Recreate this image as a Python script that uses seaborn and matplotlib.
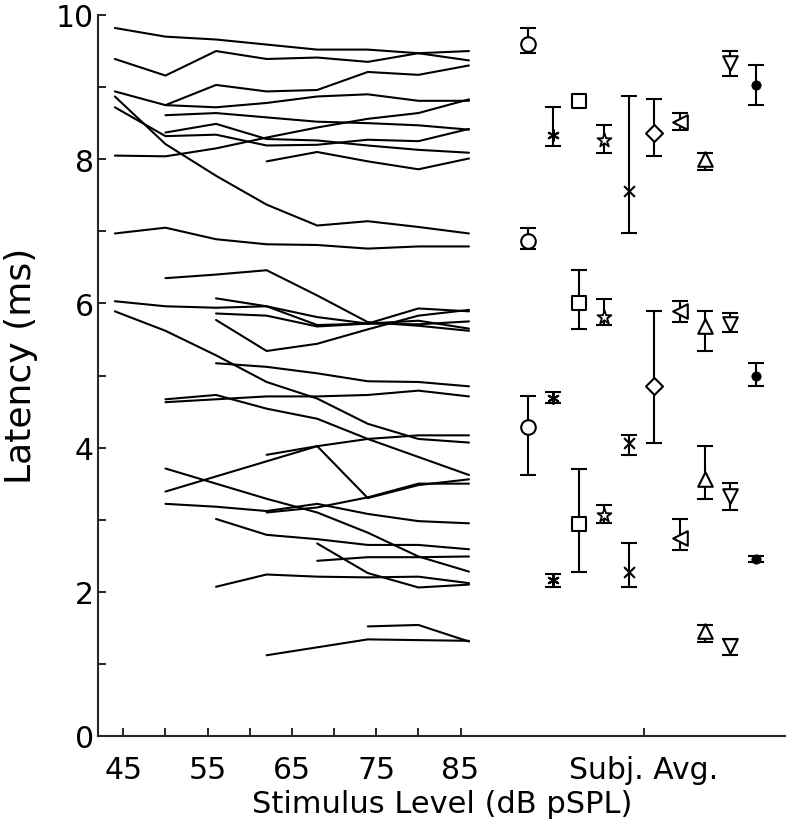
import numpy as np
import pandas as pd
import seaborn as sns
from matplotlib import pyplot as plt

nan = np.nan

# stimulus levels (dB pSPL)
levels = [44, 50, 56, 62, 68, 74, 80, 86]

# latency vs level, one row per subject/wave
lat_rows = [
    [9.82, 9.70, 9.66, 9.59, 9.52, 9.52, 9.47, 9.37],
    [9.39, 9.16, 9.50, 9.39, 9.41, 9.35, 9.47, 9.50],
    [8.94, 8.75, 9.03, 8.94, 8.96, 9.21, 9.17, 9.30],
    [nan, 8.75, 8.72, 8.78, 8.87, 8.90, 8.81, 8.81],
    [8.87, 8.21, 7.77, 7.37, 7.08, 7.14, 7.06, 6.97],
    [8.72, 8.32, 8.34, 8.19, 8.20, 8.27, 8.25, 8.42],
    [nan, 8.37, 8.49, 8.28, 8.26, 8.19, 8.13, 8.09],
    [nan, 8.61, 8.64, 8.58, 8.52, 8.50, 8.47, 8.41],
    [8.05, 8.04, 8.15, 8.30, 8.44, 8.56, 8.64, 8.83],
    [nan, nan, nan, 7.97, 8.10, 7.97, 7.86, 8.01],
    [6.97, 7.05, 6.89, 6.82, 6.81, 6.76, 6.79, 6.79],
    [nan, 6.35, 6.40, 6.46, 6.11, 5.74, 5.69, 5.62],
    [6.03, 5.96, 5.94, 5.96, 5.81, 5.72, 5.93, 5.89],
    [nan, nan, 6.07, 5.96, 5.70, 5.72, 5.76, 5.65],
    [nan, nan, 5.86, 5.83, 5.68, 5.72, 5.71, 5.75],
    [nan, nan, 5.77, 5.34, 5.44, 5.64, 5.83, 5.91],
    [5.89, 5.62, 5.28, 4.91, 4.68, 4.33, 4.12, 4.07],
    [nan, nan, 5.17, 5.12, 5.03, 4.92, 4.91, 4.85],
    [nan, 4.67, 4.73, 4.54, 4.40, 4.12, 3.87, 3.62],
    [nan, 4.63, 4.67, 4.71, 4.71, 4.73, 4.79, 4.71],
    [nan, 3.39, 3.60, 3.81, 4.02, 4.12, 4.17, 4.17],
    [nan, nan, nan, 3.90, 4.02, 3.30, 3.48, 3.56],
    [nan, 3.71, 3.50, 3.29, 3.10, 2.82, 2.49, 2.28],
    [nan, 3.22, 3.18, 3.12, 3.22, 3.08, 2.98, 2.95],
    [nan, nan, nan, 3.10, 3.17, 3.31, 3.50, 3.50],
    [nan, nan, 3.01, 2.79, 2.73, 2.65, 2.65, 2.59],
    [nan, nan, nan, nan, 2.67, 2.26, 2.06, 2.10],
    [nan, nan, nan, nan, 2.43, 2.48, 2.48, 2.49],
    [nan, nan, 2.07, 2.24, 2.21, 2.20, 2.21, 2.12],
    [nan, nan, nan, nan, nan, 1.52, 1.54, 1.31],
    [nan, nan, nan, 1.12, 1.23, 1.34, 1.33, 1.32],
]

# subject averages: x slot, mean, range top, range bottom
subj_x = [93, 96, 99, 102, 105, 108, 111, 114, 117, 120]
subj_mean = [
    [9.60, 6.87, 4.28],
    [8.34, 4.69, 2.16],
    [8.81, 6.00, 2.94],
    [8.26, 5.81, 3.06],
    [7.56, 4.07, 2.28],
    [8.37, 4.86],
    [8.52, 5.90, 2.74],
    [8.00, 5.69, 3.56, 1.46],
    [9.34, 5.71, 3.33, 1.25],
    [9.03, 5.00, 2.46],
]
subj_top = [
    [9.82, 7.05, 4.72],
    [8.72, 4.77, 2.25],
    [8.86, 6.46, 3.71],
    [8.48, 6.06, 3.21],
    [8.87, 4.18, 2.67],
    [8.83, 5.89],
    [8.64, 6.03, 3.01],
    [8.09, 5.90, 4.02, 1.54],
    [9.50, 5.86, 3.51, 1.34],
    [9.30, 5.17, 2.50],
]
subj_bot = [
    [9.47, 6.75, 3.62],
    [8.19, 4.62, 2.07],
    [8.76, 5.64, 2.28],
    [8.09, 5.70, 2.95],
    [6.97, 3.90, 2.06],
    [8.04, 4.06],
    [8.40, 5.74, 2.58],
    [7.85, 5.34, 3.29, 1.30],
    [9.16, 5.61, 3.14, 1.13],
    [8.75, 4.85, 2.42],
]
subj_markers = ['o', (6, 2, 0), 's', '*', 'x', 'D', '<', '^', 'v', 'o']

sns.set_style("ticks")
plt.rcParams['font.family'] = ['DejaVu Sans']
plt.rcParams['text.color'] = 'black'
plt.rcParams['axes.labelcolor'] = 'black'

# long form table for the level lines
recs = []
for i, row in enumerate(lat_rows):
    for lv, v in zip(levels, row):
        if not np.isnan(v):
            recs.append({"line": i, "level": lv, "latency": v})
line_df = pd.DataFrame(recs)

fig = plt.figure(figsize=(7.86, 8.28), dpi=100)
ax = fig.add_axes([98 / 786, 1 - 737 / 828, 688 / 786, 721 / 828])

sns.lineplot(data=line_df, x="level", y="latency", units="line",
             estimator=None, color="black", lw=1.5, ax=ax, legend=False)

#averages with range bars
for k in range(len(subj_x)):
    m = np.array(subj_mean[k])
    t = np.array(subj_top[k])
    b = np.array(subj_bot[k])
    xs = np.full(len(m), subj_x[k])
    ax.errorbar(xs, m, yerr=[m - b, t - m], fmt='none', ecolor='black',
                elinewidth=1.5, capsize=6, capthick=1.5, zorder=2)
    mk = subj_markers[k]
    if k == 9:
        sns.scatterplot(x=xs, y=m, marker='o', s=45, color='black',
                        edgecolor='black', ax=ax, zorder=3)
    elif mk in ['x', (6, 2, 0)]:
        sns.scatterplot(x=xs, y=m, marker=mk, s=60, color='black',
                        linewidth=1.5, ax=ax, zorder=3)
    elif mk == '*':
        sns.scatterplot(x=xs, y=m, marker=mk, s=110, facecolor='white',
                        edgecolor='black', linewidth=1.3, ax=ax, zorder=3)
    elif mk == 'D':
        sns.scatterplot(x=xs, y=m, marker=mk, s=75, facecolor='white',
                        edgecolor='black', linewidth=1.5, ax=ax, zorder=3)
    else:
        sns.scatterplot(x=xs, y=m, marker=mk, s=110, facecolor='white',
                        edgecolor='black', linewidth=1.5, ax=ax, zorder=3)

ax.set_xlim(42, 123.6)
ax.set_ylim(0, 10)
ax.set_xticks([45, 50, 55, 60, 65, 70, 75, 80, 85, 106.7])
ax.set_xticklabels(['45', '', '55', '', '65', '', '75', '', '85', 'Subj. Avg.'])
ax.set_yticks(range(0, 11))
ax.set_yticklabels([str(v) if v % 2 == 0 else '' for v in range(0, 11)])
ax.tick_params(direction='in', length=6, width=1.2, labelsize=21.5, colors='black')
ax.tick_params(axis='x', pad=14)
ax.tick_params(axis='y', pad=3)
for s in ['left', 'bottom']:
    ax.spines[s].set_linewidth(1.5)
sns.despine(ax=ax)

ax.set_xlabel("Stimulus Level (dB pSPL)", fontsize=22, labelpad=3)
ax.set_ylabel("Latency (ms)", fontsize=26)
ax.yaxis.set_label_coords(-0.087, 0.515)

fig.savefig("out.png", dpi=100)
